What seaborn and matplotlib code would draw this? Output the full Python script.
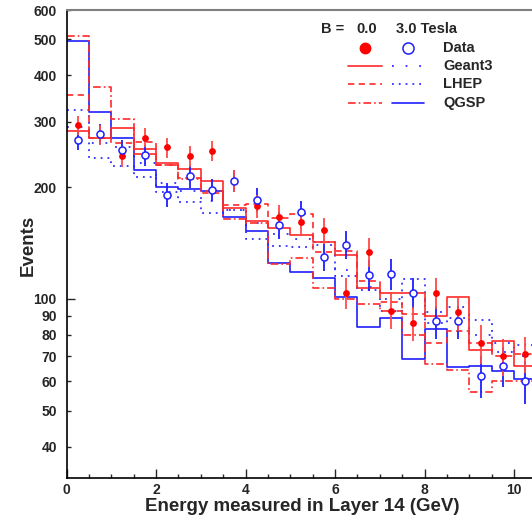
import numpy as np
import pandas as pd
import matplotlib
matplotlib.use("Agg")
import matplotlib.pyplot as plt
import seaborn as sns
from matplotlib.lines import Line2D
from matplotlib.ticker import FixedLocator, FixedFormatter

sns.set_style("ticks")
plt.rcParams["font.family"] = ["Liberation Sans", "DejaVu Sans"]
plt.rcParams["font.weight"] = "bold"
plt.rcParams["lines.scale_dashes"] = False

# ---------------- data ----------------
bin_edges = [0.0, 0.5, 1.0, 1.5, 2.0, 2.5, 3.0, 3.5, 4.0, 4.5, 5.0, 5.5,
             6.0, 6.5, 7.0, 7.5, 8.0, 8.5, 9.0, 9.5, 10.0, 10.5]

data_0T = [294, 277, 242, 272, 256, 242, 251, 208, 178, 166, 161, 153,
           104, 134, 93, 86, 104, 92, 76, 70, 71]
err_0T = [17, 17, 16, 16, 16, 16, 16, 14, 13, 13, 13, 12,
          10, 12, 10, 9, 10, 10, 9, 8, 8]
data_3T = [268, 278, 252, 244, 191, 214, 197, 208, 185, 158, 171, 130,
           140, 116, 117, 104, 87, 87, 62, 66, 60]
err_3T = [16, 17, 16, 16, 14, 15, 14, 14, 14, 13, 13, 11,
          12, 11, 11, 10, 9, 9, 8, 8, 8]

geant3_0T = [284, 272, 289, 254, 232, 224, 208, 176, 162, 155, 149, 142,
             131, 107, 104, 104, 90, 101, 73, 77, 66]
geant3_3T = [290, 263, 256, 233, 205, 195, 183, 174, 160, 150, 145, 140,
             120, 108, 100, 100, 92, 95, 80, 76, 70]
lhep_0T = [354, 272, 263, 264, 229, 212, 193, 179, 180, 165, 169, 134,
           135, 112, 98, 91, 76, 82, 76, 70, 71]
lhep_3T = [323, 239, 228, 213, 194, 182, 170, 174, 145, 139, 138, 142,
           115, 106, 93, 113, 86, 89, 88, 72, 75]
qgsp_0T = [512, 373, 305, 245, 230, 210, 195, 164, 160, 124, 129, 107,
           100, 97, 93, 80, 67, 64.5, 56, 60, 60]
qgsp_3T = [494, 318, 272, 223, 200, 198, 195, 166, 152, 125, 118, 114,
           101, 84, 89, 69, 83, 65.5, 66, 64, 61]

y_ticks_major = [100]
y_ticks_minor = [40, 50, 60, 70, 80, 90, 200, 300, 400, 500, 600]
x_ticks = [0, 2, 4, 6, 8, 10]

RED = "#ff2a2a"
BLUE = "#1f1fff"

edges = np.array(bin_edges)
centers = 0.5 * (edges[:-1] + edges[1:])

W, H = 532, 520
fig = plt.figure(figsize=(W / 100, H / 100), dpi=100)
ax = fig.add_axes([66.5 / W, (H - 477.7) / H, (W - 66.5) / W, (477.7 - 10) / H])

styles = {
    "sparse": dict(dashes=(1.3, 8.5)),
    "dense": dict(dashes=(1.3, 3.6)),
    "dashed": dict(dashes=(4.5, 3.2)),
    "dashdot": dict(dashes=(5.5, 2.2, 1.2, 2.2)),
    "solid": dict(linestyle="-"),
}

hists = [
    (geant3_3T, BLUE, "sparse"),
    (lhep_3T, BLUE, "dense"),
    (qgsp_3T, BLUE, "solid"),
    (lhep_0T, RED, "dashed"),
    (qgsp_0T, RED, "dashdot"),
    (geant3_0T, RED, "solid"),
]
for vals, col, st in hists:
    df = pd.DataFrame({"energy": centers, "events": vals})
    sns.histplot(data=df, x="energy", weights="events", bins=bin_edges,
                 element="step", fill=False, color=col, linewidth=1.2,
                 ax=ax, **styles[st])

ax.set_yscale("log")

# data points
ax.errorbar(centers, data_3T, yerr=err_3T, fmt="none", ecolor=BLUE,
            elinewidth=1.3, capsize=0, zorder=4)
ax.errorbar(centers, data_0T, yerr=err_0T, fmt="none", ecolor="#ff4a4a",
            elinewidth=1.3, capsize=0, zorder=4)
sns.scatterplot(x=centers, y=data_0T, color="#ff0000", s=24, linewidth=0,
                marker="o", ax=ax, zorder=5)
sns.scatterplot(x=centers, y=data_3T, facecolor="white", edgecolor=BLUE,
                s=26, linewidth=1.1, marker="o", ax=ax, zorder=6)

ax.set_xlim(0, 10.4)
ax.set_ylim(33, 600)

ax.yaxis.set_major_locator(FixedLocator(y_ticks_major))
ax.yaxis.set_major_formatter(FixedFormatter([str(v) for v in y_ticks_major]))
ax.yaxis.set_minor_locator(FixedLocator(y_ticks_minor))
ax.yaxis.set_minor_formatter(FixedFormatter([str(v) for v in y_ticks_minor]))
ax.set_xticks(x_ticks)
ax.set_xticklabels([str(v) for v in x_ticks])
ax.xaxis.set_minor_locator(FixedLocator(bin_edges))

ax.tick_params(axis="y", which="major", direction="in", length=5.5, width=1,
               labelsize=10, pad=7)
ax.tick_params(axis="y", which="minor", direction="in", length=3, width=1,
               labelsize=10, pad=7)
ax.tick_params(axis="x", which="major", direction="in", length=6.5, width=1,
               labelsize=10, pad=4)
ax.tick_params(axis="x", which="minor", direction="in", length=3, width=1)
for lab in ax.get_xticklabels() + ax.get_yticklabels() + ax.get_yticklabels(minor=True):
    lab.set_fontweight("bold")

ax.spines["right"].set_visible(False)
ax.spines["top"].set_color("#808080")
ax.spines["top"].set_linewidth(1.5)
ax.spines["left"].set_color("black")
ax.spines["bottom"].set_color("black")
ax.spines["left"].set_linewidth(1.2)
ax.spines["bottom"].set_linewidth(1.2)

ax.set_xlabel("Energy measured in Layer 14 (GeV)", fontsize=13.5, fontweight="bold")
ax.xaxis.set_label_coords(0.506, -0.043)
ax.set_ylabel("Events", fontsize=13.5, fontweight="bold")
ax.yaxis.set_label_coords(-0.063, 0.4976)

# ---------------- legend (figure pixel coords) ----------------
def fx(px):
    return px / W

def fy(py):
    return 1 - py / H

tk = dict(fontsize=10.5, fontweight="bold", va="center", ha="left")
fig.text(fx(320.7), fy(29.3), "B =", **tk)
fig.text(fx(356), fy(29.3), "0.0", **tk)
fig.text(fx(396), fy(29.3), "3.0 Tesla", **tk)

fig.add_artist(Line2D([fx(365.3)], [fy(47.7)], marker="o", color="#ff0000",
                      markersize=7.5, linestyle="none", transform=fig.transFigure))
fig.add_artist(Line2D([fx(407.7)], [fy(47.7)], marker="o", markerfacecolor="white",
                      markeredgecolor=BLUE, markeredgewidth=1.1, markersize=8,
                      linestyle="none", transform=fig.transFigure))

rows = [("Data", 47.7, None, None),
        ("Geant3", 66.0, "solid", "sparse"),
        ("LHEP", 84.3, "dashed", "dense"),
        ("QGSP", 103.3, "dashdot", "solid")]
for name, py, rst, bst in rows:
    fig.text(fx(443.3), fy(py), name, **tk)
    if rst is None:
        continue
    fig.add_artist(Line2D([fx(348.3), fx(381.7)], [fy(py), fy(py)], color=RED,
                          linewidth=1.2, transform=fig.transFigure, **styles[rst]))
    fig.add_artist(Line2D([fx(391.5), fx(423.5)], [fy(py), fy(py)], color=BLUE,
                          linewidth=1.2, transform=fig.transFigure, **styles[bst]))

fig.savefig("out.png", dpi=100, facecolor="white")
